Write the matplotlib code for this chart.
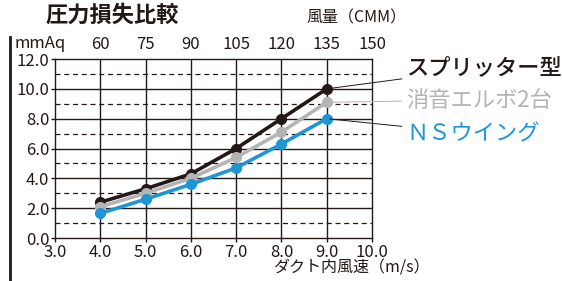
import numpy as np
import matplotlib
matplotlib.use('Agg')
import matplotlib.pyplot as plt

plt.rcParams['font.family'] = ['Noto Sans CJK JP', 'DejaVu Sans']

# ── データ ─────────────────────────────────────
velocity = [4.0, 5.0, 6.0, 7.0, 8.0, 9.0]
splitter = [2.4, 3.3, 4.3, 6.0, 8.0, 10.0]
elbow2 = [2.1, 3.0, 4.0, 5.4, 7.1, 9.1]
ns_wing = [1.65, 2.6, 3.6, 4.7, 6.3, 8.0]
series_names = ['スプリッター型', '消音エルボ2台', 'ＮＳウイング']
airflow_ticks = [4.0, 5.0, 6.0, 7.0, 8.0, 9.0, 10.0]
airflow_labels = ['60', '75', '90', '105', '120', '135', '150']

BLACK = '#231815'
GRAY = '#b4b4b5'
BLUE = '#1e96d3'

fig = plt.figure(figsize=(5.62, 2.81), dpi=100)
ax = fig.add_axes([0.0979, 0.153, 0.5641, 0.637])

ax.set_xlim(3, 10)
ax.set_ylim(0, 12)

# グリッド：偶数は実線、奇数は破線
for y in range(2, 12, 2):
    ax.axhline(y, color=BLACK, lw=1.0, zorder=1)
for y in range(1, 12, 2):
    ax.axhline(y, color=BLACK, lw=0.9, ls=(0, (4, 3)), zorder=1)
for x in range(4, 10):
    ax.axvline(x, color=BLACK, lw=1.0, zorder=1)
for s in ax.spines.values():
    s.set_color(BLACK)
    s.set_linewidth(1.0)

ax.set_xticks(np.arange(3, 10.5, 1))
ax.set_xticklabels([f'{v:.1f}' for v in np.arange(3, 10.5, 1)])
ax.set_yticks(np.arange(0, 12.5, 2))
ax.set_yticklabels([f'{v:.1f}' for v in np.arange(0, 12.5, 2)])
ax.tick_params(direction='out', length=3, width=1, labelsize=12, pad=1,
               colors=BLACK)

for vals, col in [(splitter, BLACK), (elbow2, GRAY), (ns_wing, BLUE)]:
    ax.plot(velocity, vals, color=col, lw=2.6, marker='o', markersize=7,
            zorder=3, clip_on=False)

# 上側の風量軸
top = ax.secondary_xaxis('top')
top.set_xticks(airflow_ticks)
top.set_xticklabels(airflow_labels)
top.tick_params(length=0, labelsize=12, pad=4, colors=BLACK)
top.spines['top'].set_visible(False)

# 凡例（引き出し線）
label_y = [11.4, 9.25, 7.0]
for vals, col, name, ly in zip([splitter, elbow2, ns_wing], [BLACK, GRAY, BLUE],
                               series_names, label_y):
    ax.annotate(name, xy=(velocity[-1], vals[-1]), xytext=(10.75, ly),
                textcoords='data', fontsize=16, color=col,
                fontweight='medium' if col == BLACK else 'normal',
                va='center', ha='left', annotation_clip=False,
                arrowprops=dict(arrowstyle='-', color=col if col != BLUE else BLACK,
                                lw=0.7, shrinkA=1, shrinkB=2))

fig.text(0.2, 0.945, '圧力損失比較', fontsize=16, fontweight='bold',
         ha='center', va='center', color=BLACK)
fig.text(0.025, 0.845, 'mmAq', fontsize=12, ha='left', va='center', color=BLACK)
fig.text(0.635, 0.935, '風量（CMM）', fontsize=11.5, ha='center', va='center', color=BLACK)
fig.text(0.625, 0.045, 'ダクト内風速（m/s）', fontsize=11.5, ha='center', va='center',
         color=BLACK)

# 左端の縦線
fig.add_artist(plt.Line2D([0.018, 0.018], [0.0, 0.87], color=BLACK, lw=2.0))

plt.savefig('out.png', dpi=100)
